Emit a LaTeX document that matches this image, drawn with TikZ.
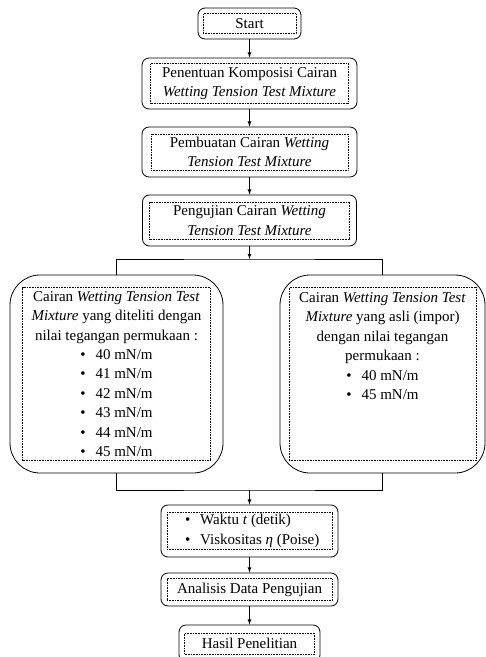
\documentclass[tikz,border=0pt]{standalone}
\usepackage{fontspec}
\setmainfont{Liberation Serif}
\tikzset{>=latex}
\tikzstyle{outer}   =[draw,line width=0.8pt,rounded corners=7pt,inner sep=0pt]
\tikzstyle{bigouter}=[outer,rounded corners=30pt]
\tikzstyle{inner}   =[draw,densely dotted,line width=0.6pt,inner sep=0pt,
                      align=center,font=\fontsize{15}{19.4}\selectfont]
\tikzstyle{link}    =[line width=0.8pt]
\newcommand\flowbox[8][outer]{%
  % #2 name, #3 centre, #4/#5 outer size, #6/#7 dotted size, #8 text
  \node[#1,minimum width=#4,minimum height=#5] (#2) at (#3) {};
  \node[inner,minimum width=#6,minimum height=#7] (#2in) at (#3) {#8};
}

\begin{document}
\begin{tikzpicture}[x=1pt,y=-1pt]
  \useasboundingbox (0,0) rectangle (486,657);

  % main column
  \flowbox{start}{249.5,23.5}{103pt}{31pt}{93pt}{20pt}{Start}
  \flowbox{komposisi}{249.5,83.5}{215pt}{51pt}{198pt}{40pt}%
    {Penentuan Komposisi Cairan\\\textit{Wetting Tension Test Mixture}}
  \flowbox{pembuatan}{249.5,152}{215pt}{50pt}{197pt}{36pt}%
    {Pembuatan Cairan \textit{Wetting}\\\textit{Tension Test Mixture}}
  \flowbox{pengujian}{249.5,220.5}{214pt}{51pt}{200pt}{37pt}%
    {Pengujian Cairan \textit{Wetting}\\\textit{Tension Test Mixture}}

  % two samples
  \flowbox[bigouter]{teliti}{116.5,374}{213pt}{198pt}{188pt}{173pt}%
    {Cairan \textit{Wetting Tension Test}\\
     \textit{Mixture} yang diteliti dengan\\
     nilai tegangan permukaan :\\
     \textbullet\hspace{10pt}40 mN/m\\
     \textbullet\hspace{10pt}41 mN/m\\
     \textbullet\hspace{10pt}42 mN/m\\
     \textbullet\hspace{10pt}43 mN/m\\
     \textbullet\hspace{10pt}44 mN/m\\
     \textbullet\hspace{10pt}45 mN/m}
  \flowbox[bigouter]{impor}{382.5,374}{205pt}{198pt}{187pt}{173pt}%
    {\parbox[c][173pt][t]{187pt}{\centering\vspace*{5pt}
     Cairan \textit{Wetting Tension Test}\\
     \textit{Mixture} yang asli (impor)\\
     dengan nilai tegangan\\
     permukaan :\\
     \textbullet\hspace{10pt}40 mN/m\\
     \textbullet\hspace{10pt}45 mN/m}}

  % measurement and result
  \flowbox{ukur}{249.5,531}{177pt}{52pt}{165pt}{37pt}%
    {\parbox{165pt}{\raggedright\hspace*{18pt}\textbullet\hspace{10pt}Waktu \textit{t} (detik)\\
     \hspace*{18pt}\textbullet\hspace{10pt}Viskositas \textit{η} (Poise)}}
  \flowbox{analisis}{249.5,589.5}{177pt}{33pt}{165pt}{22pt}{Analisis Data Pengujian}
  \flowbox{hasil}{249.5,643.5}{141pt}{37pt}{130pt}{21pt}{Hasil Penelitian}

  % connectors
  \coordinate (split) at (249.5,259);
  \coordinate (merge) at (249.5,490);
  \draw[link,->] (start) -- (komposisi);
  \draw[link,->] (komposisi) -- (pembuatan);
  \draw[link,->] (pembuatan) -- (pengujian);
  \draw[link,->] (pengujian) -- (split);
  \draw[link] (teliti) |- (split) -| (impor);
  \draw[link] (teliti) |- (merge) -| (impor);
  \draw[link,->] (merge) -- (ukur);
  \draw[link,->] (ukur) -- (analisis);
  \draw[link,->] (analisis) -- (hasil);
\end{tikzpicture}
\end{document}
